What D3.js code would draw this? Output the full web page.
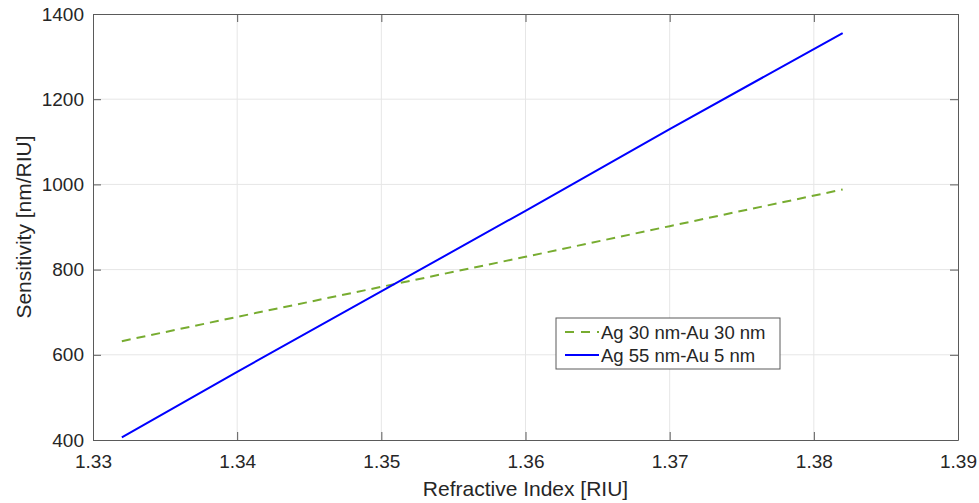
<!DOCTYPE html>
<html>
<head>
<meta charset="utf-8">
<style>
  body { margin: 0; background: #fff; }
  svg { font-family: "Liberation Sans", Arial, sans-serif; }
  .tick text { fill: #262626; }
</style>
</head>
<body>
<div id="chart"></div>
<script src="https://cdn.jsdelivr.net/npm/d3@7/dist/d3.min.js"></script>
<script>
// values
const riu = [1.332, 1.34, 1.36, 1.37, 1.382];
const agAu30 = [632, 689, 830, 902, 988];
const agAu5 = [406, 560, 938, 1130, 1355];
const xTicks = [1.33, 1.34, 1.35, 1.36, 1.37, 1.38, 1.39];
const yTicks = [400, 600, 800, 1000, 1200, 1400];
const seriesNames = ["Ag 30 nm-Au 30 nm", "Ag 55 nm-Au 5 nm"];

const width = 979, height = 503;
const margin = {top: 14, right: 21, bottom: 63, left: 93};

const x = d3.scaleLinear().domain([1.33, 1.39]).range([margin.left, width - margin.right]);
const y = d3.scaleLinear().domain([400, 1400]).range([height - margin.bottom, margin.top]);

const svg = d3.select("#chart").append("svg")
    .attr("width", width)
    .attr("height", height);

// grid
svg.append("g")
  .selectAll("line")
  .data(xTicks.slice(1, -1))
  .join("line")
    .attr("x1", d => x(d)).attr("x2", d => x(d))
    .attr("y1", y(400)).attr("y2", y(1400))
    .attr("stroke", "#e6e6e6");
svg.append("g")
  .selectAll("line")
  .data(yTicks.slice(1, -1))
  .join("line")
    .attr("x1", x(1.33)).attr("x2", x(1.39))
    .attr("y1", d => y(d)).attr("y2", d => y(d))
    .attr("stroke", "#e6e6e6");

const axisColor = "#5a5a5a";
const tickLen = 8;

const xAxis = g => g
    .attr("transform", `translate(0,${y(400)})`)
    .call(d3.axisBottom(x).tickValues(xTicks).tickFormat(d3.format(".2f")).tickSizeInner(-tickLen).tickSizeOuter(0).tickPadding(15))
    .call(g => g.selectAll("text").attr("font-size", 19))
    .call(g => g.selectAll("line, path").attr("stroke", axisColor));
const yAxis = g => g
    .attr("transform", `translate(${x(1.33)},0)`)
    .call(d3.axisLeft(y).tickValues(yTicks).tickFormat(d3.format("d")).tickSizeInner(-tickLen).tickSizeOuter(0).tickPadding(9))
    .call(g => g.selectAll("text").attr("font-size", 19))
    .call(g => g.selectAll("line, path").attr("stroke", axisColor));

svg.append("g").call(xAxis);
svg.append("g").call(yAxis);

// top and right ticks (box)
svg.append("g")
    .attr("transform", `translate(0,${y(1400)})`)
    .call(d3.axisTop(x).tickValues(xTicks).tickFormat("").tickSizeInner(-tickLen).tickSizeOuter(0))
    .call(g => g.selectAll("line, path").attr("stroke", axisColor));
svg.append("g")
    .attr("transform", `translate(${x(1.39)},0)`)
    .call(d3.axisRight(y).tickValues(yTicks).tickFormat("").tickSizeInner(-tickLen).tickSizeOuter(0))
    .call(g => g.selectAll("line, path").attr("stroke", axisColor));

// axis titles
svg.append("text")
    .attr("x", (x(1.33) + x(1.39)) / 2)
    .attr("y", 496)
    .attr("text-anchor", "middle")
    .attr("font-size", 21)
    .attr("fill", "#262626")
    .text("Refractive Index [RIU]");
svg.append("text")
    .attr("transform", `translate(31,${(y(400) + y(1400)) / 2}) rotate(-90)`)
    .attr("text-anchor", "middle")
    .attr("font-size", 21)
    .attr("fill", "#262626")
    .text("Sensitivity [nm/RIU]");

// lines
const line = d3.line().x(d => x(d[0])).y(d => y(d[1]));
const green = "#77ac30", blue = "#0000ff";

svg.append("path")
    .datum(riu.map((r, i) => [r, agAu30[i]]))
    .attr("d", line)
    .attr("fill", "none")
    .attr("stroke", green)
    .attr("stroke-width", 2)
    .attr("stroke-dasharray", "9,6");
svg.append("path")
    .datum(riu.map((r, i) => [r, agAu5[i]]))
    .attr("d", line)
    .attr("fill", "none")
    .attr("stroke", blue)
    .attr("stroke-width", 2);

// legend
const lg = svg.append("g").attr("transform", "translate(556,318)");
lg.append("rect")
    .attr("width", 224).attr("height", 51)
    .attr("fill", "#fff")
    .attr("stroke", "#5a5a5a");
const items = [{name: seriesNames[0], color: green, dash: "9,7"}, {name: seriesNames[1], color: blue, dash: null}];
items.forEach((d, i) => {
  const cy = 14 + i * 23;
  lg.append("line")
      .attr("x1", 9).attr("x2", 43)
      .attr("y1", cy).attr("y2", cy)
      .attr("stroke", d.color)
      .attr("stroke-width", 2)
      .attr("stroke-dasharray", d.dash);
  lg.append("text")
      .attr("x", 45).attr("y", cy + 7)
      .attr("font-size", 18.5)
      .attr("fill", "#262626")
      .text(d.name);
});
</script>
</body>
</html>
